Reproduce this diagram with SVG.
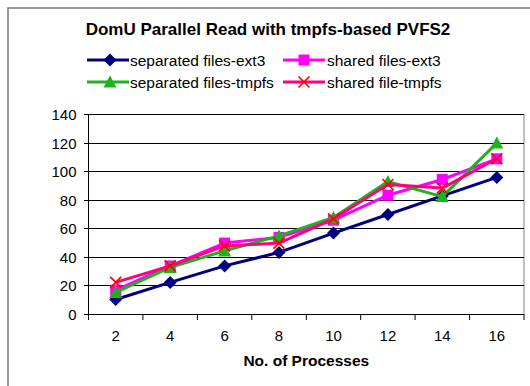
<svg xmlns="http://www.w3.org/2000/svg" width="530" height="386" viewBox="0 0 530 386">
  <defs>
    <style>
      .frame { fill: #ffffff; stroke: #808080; stroke-width: 1.6; }
      .plotbox { fill: none; stroke: #808080; stroke-width: 1; }
      .grid { stroke: #000000; stroke-width: 1; }
      .axis { stroke: #000000; stroke-width: 1; fill: none; }
      .title { font-family: "Liberation Sans", Arial, sans-serif; font-weight: bold; font-size: 17px; fill: #000; }
      .lbl { font-family: "Liberation Sans", Arial, sans-serif; font-size: 15px; fill: #000; }
      .axtitle { font-family: "Liberation Sans", Arial, sans-serif; font-weight: bold; font-size: 15.5px; fill: #000; }
      .leg { font-family: "Liberation Sans", Arial, sans-serif; font-size: 15.5px; fill: #000; }
      .s1 { stroke: #000080; stroke-width: 3; fill: none; stroke-linejoin: round; }
      .s2 { stroke: #FF00FF; stroke-width: 3; fill: none; stroke-linejoin: round; }
      .s3 { stroke: #1DB31D; stroke-width: 3; fill: none; stroke-linejoin: round; }
      .s4 { stroke: #FF0080; stroke-width: 3; fill: none; stroke-linejoin: round; }
    </style>
    <marker id="mDiamond" viewBox="-7 -7 14 14" markerWidth="14" markerHeight="14" markerUnits="userSpaceOnUse" refX="0" refY="0">
      <path d="M0,-6.5 L6.5,0 L0,6.5 L-6.5,0 Z" fill="#000080"/>
    </marker>
    <marker id="mSquare" viewBox="-7 -7 14 14" markerWidth="14" markerHeight="14" markerUnits="userSpaceOnUse" refX="0" refY="0">
      <rect x="-5.5" y="-5.5" width="11" height="11" fill="#FF00FF"/>
    </marker>
    <marker id="mTriangle" viewBox="-7 -7 14 14" markerWidth="14" markerHeight="14" markerUnits="userSpaceOnUse" refX="0" refY="0">
      <path d="M0,-6.5 L6.5,5.5 L-6.5,5.5 Z" fill="#1DB31D"/>
    </marker>
    <marker id="mCross" viewBox="-7 -7 14 14" markerWidth="14" markerHeight="14" markerUnits="userSpaceOnUse" refX="0" refY="0">
      <path d="M-5.5,-5.5 L5.5,5.5 M5.5,-5.5 L-5.5,5.5" stroke="#FF0000" stroke-width="1.6" fill="none"/>
    </marker>
  </defs>

  <!-- chart frame -->
  <rect class="frame" x="8" y="8" width="540" height="400"/>

  <text class="title" x="268" y="35" text-anchor="middle">DomU Parallel Read with tmpfs-based PVFS2</text>

  <!-- legend -->
  <g id="legend">
    <g id="legend-sep-ext3">
      <path class="s1" d="M87,60 H129"/>
      <path d="M110,53.5 L116.5,60 L110,66.5 L103.5,60 Z" fill="#000080"/>
      <text class="leg" x="130" y="65.5">separated files-ext3</text>
    </g>
    <g id="legend-shared-ext3">
      <path class="s2" d="M283,60 H325"/>
      <rect x="298.5" y="54.5" width="11" height="11" fill="#FF00FF"/>
      <text class="leg" x="327" y="65.5">shared files-ext3</text>
    </g>
    <g id="legend-sep-tmpfs">
      <path class="s3" d="M87,82 H129"/>
      <path d="M110,75.5 L116.5,87.5 L103.5,87.5 Z" fill="#1DB31D"/>
      <text class="leg" x="130" y="87.5">separated files-tmpfs</text>
    </g>
    <g id="legend-shared-tmpfs">
      <path class="s4" d="M283,82 H325"/>
      <path d="M298.5,76.5 L309.5,87.5 M309.5,76.5 L298.5,87.5" stroke="#FF0000" stroke-width="1.6"/>
      <text class="leg" x="327" y="87.5">shared file-tmpfs</text>
    </g>
  </g>

  <!-- plot area -->
  <g id="plot-area">
    <rect class="plotbox" x="88.5" y="114.5" width="435.5" height="200"/>
    <g id="gridlines">
      <line class="grid" x1="88.5" y1="285.5" x2="524" y2="285.5"/>
      <line class="grid" x1="88.5" y1="257.5" x2="524" y2="257.5"/>
      <line class="grid" x1="88.5" y1="228.5" x2="524" y2="228.5"/>
      <line class="grid" x1="88.5" y1="200.5" x2="524" y2="200.5"/>
      <line class="grid" x1="88.5" y1="171.5" x2="524" y2="171.5"/>
      <line class="grid" x1="88.5" y1="143.5" x2="524" y2="143.5"/>
      <line class="grid" x1="88.5" y1="114.5" x2="524" y2="114.5"/>
    </g>
    <g id="axes">
      <path class="axis" d="M88.5,114.5 V314.5 H524"/>
      <!-- value axis ticks -->
      <path class="axis" d="M84,314.5 H88.5 M84,285.5 H88.5 M84,257.5 H88.5 M84,228.5 H88.5 M84,200.5 H88.5 M84,171.5 H88.5 M84,143.5 H88.5 M84,114.5 H88.5"/>
      <!-- category axis ticks -->
      <path class="axis" d="M88.5,314.5 V320 M142.9,314.5 V320 M197.4,314.5 V320 M251.8,314.5 V320 M306.3,314.5 V320 M360.7,314.5 V320 M415.1,314.5 V320 M469.6,314.5 V320 M524,314.5 V320"/>
    </g>
    <g id="y-labels" text-anchor="end">
      <text class="lbl" x="76.5" y="320">0</text>
      <text class="lbl" x="76.5" y="291">20</text>
      <text class="lbl" x="76.5" y="263">40</text>
      <text class="lbl" x="76.5" y="234">60</text>
      <text class="lbl" x="76.5" y="206">80</text>
      <text class="lbl" x="76.5" y="177">100</text>
      <text class="lbl" x="76.5" y="149">120</text>
      <text class="lbl" x="76.5" y="120">140</text>
    </g>
    <g id="x-labels" text-anchor="middle">
      <text class="lbl" x="115.7" y="341">2</text>
      <text class="lbl" x="170.2" y="341">4</text>
      <text class="lbl" x="224.6" y="341">6</text>
      <text class="lbl" x="279" y="341">8</text>
      <text class="lbl" x="333.5" y="341">10</text>
      <text class="lbl" x="387.9" y="341">12</text>
      <text class="lbl" x="442.3" y="341">14</text>
      <text class="lbl" x="496.8" y="341">16</text>
    </g>
    <text class="axtitle" x="306.3" y="366" text-anchor="middle">No. of Processes</text>
  </g>

  <!-- data series -->
  <g id="connectors">
    <polyline id="series-sep-ext3" class="s1" points="115.7,299.5 170.2,282.4 224.6,265.9 279,252.4 333.5,233.1 387.9,214.5 442.3,195.9 496.8,177.4"
      marker-start="url(#mDiamond)" marker-mid="url(#mDiamond)" marker-end="url(#mDiamond)"/>
    <polyline id="series-shared-ext3" class="s2" points="115.7,290.2 170.2,265.9 224.6,243.1 279,237.4 333.5,220.2 387.9,195.2 442.3,179.5 496.8,158.8"
      marker-start="url(#mSquare)" marker-mid="url(#mSquare)" marker-end="url(#mSquare)"/>
    <polyline id="series-sep-tmpfs" class="s3" points="115.7,292.4 170.2,267.4 224.6,250.9 279,235.9 333.5,217.4 387.9,181.6 442.3,196.6 496.8,143.1"
      marker-start="url(#mTriangle)" marker-mid="url(#mTriangle)" marker-end="url(#mTriangle)"/>
    <polyline id="series-shared-tmpfs" class="s4" points="115.7,282.4 170.2,265.9 224.6,245.9 279,243.1 333.5,218.8 387.9,184.5 442.3,188.1 496.8,158.8"
      marker-start="url(#mCross)" marker-mid="url(#mCross)" marker-end="url(#mCross)"/>
  </g>
</svg>
